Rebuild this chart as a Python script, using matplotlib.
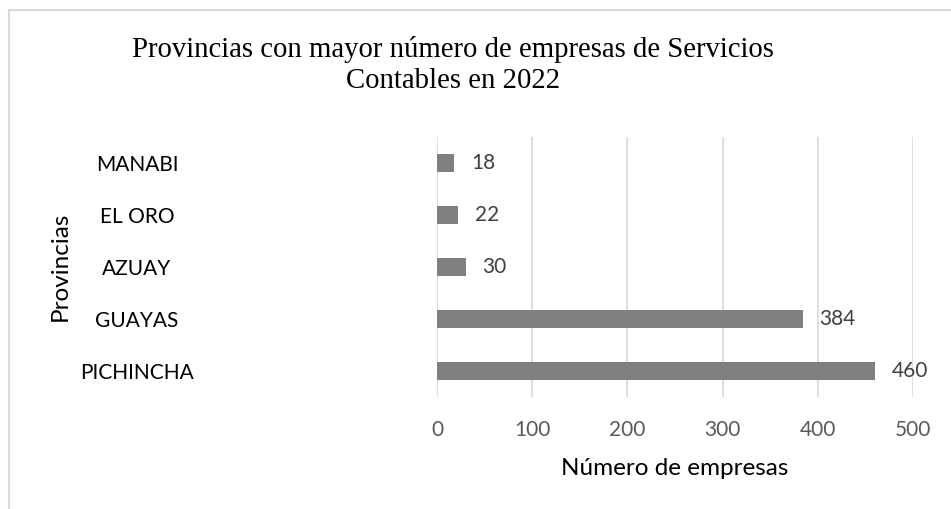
import matplotlib

matplotlib.use("Agg")
import matplotlib.pyplot as plt
from matplotlib.patches import Rectangle

provincias = ["MANABI", "EL ORO", "AZUAY", "GUAYAS", "PICHINCHA"]
empresas = [18, 22, 30, 384, 460]
x_ticks = [0, 100, 200, 300, 400, 500]

W, H = 951, 509
fig = plt.figure(figsize=(W / 100, H / 100), dpi=100)


def px(x, y):
    # pixel position (from top-left) -> figure fraction
    return x / W, 1 - y / H


# light frame of the chart area (right/bottom edges fall outside the picture)
fig.patches.append(Rectangle((9 / W, -0.1), 1.2, 1 - 10 / H + 0.1, transform=fig.transFigure,
                             fill=False, edgecolor="#d9d9d9", linewidth=1.5))

ax = fig.add_axes([437 / W, 1 - 397 / H, (913 - 437) / W, (397 - 137) / H])
ypos = list(range(len(provincias)))
bars = ax.barh(ypos, empresas, height=0.35, color="#808080", zorder=3)
ax.set_ylim(len(provincias) - 0.5, -0.5)
ax.set_xlim(0, 500)
ax.set_xticks(x_ticks)
ax.set_xticklabels([str(t) for t in x_ticks], fontfamily="Lato", fontsize=15,
                   color="#595959", va="baseline")
ax.set_yticks(ypos)
ax.set_yticklabels(provincias, fontfamily="Lato", fontsize=15, color="black", ha="center")
ax.tick_params(axis="y", length=0, pad=216)
ax.tick_params(axis="x", length=0, pad=28)
for s in ax.spines.values():
    s.set_visible(False)
ax.grid(axis="x", color="#d9d9d9", linewidth=1.2, zorder=0)
ax.set_axisbelow(True)

ax.bar_label(bars, labels=[str(v) for v in empresas], padding=12,
             fontfamily="Lato", fontsize=15, color="#404040")

fig.text(*px(675, 475), "Número de empresas", ha="center", va="baseline",
         fontfamily="Lato", fontsize=17.5)
fig.text(*px(67, 266), "Provincias", rotation=90, rotation_mode="anchor",
         ha="center", va="baseline", fontfamily="Lato", fontsize=17.5)

fig.text(*px(453, 57), "Provincias con mayor número de empresas de Servicios",
         ha="center", va="baseline", fontfamily="Liberation Serif", fontsize=20.7)
fig.text(*px(453, 88), "Contables en 2022",
         ha="center", va="baseline", fontfamily="Liberation Serif", fontsize=20.7)

fig.savefig("out.png", dpi=100)
